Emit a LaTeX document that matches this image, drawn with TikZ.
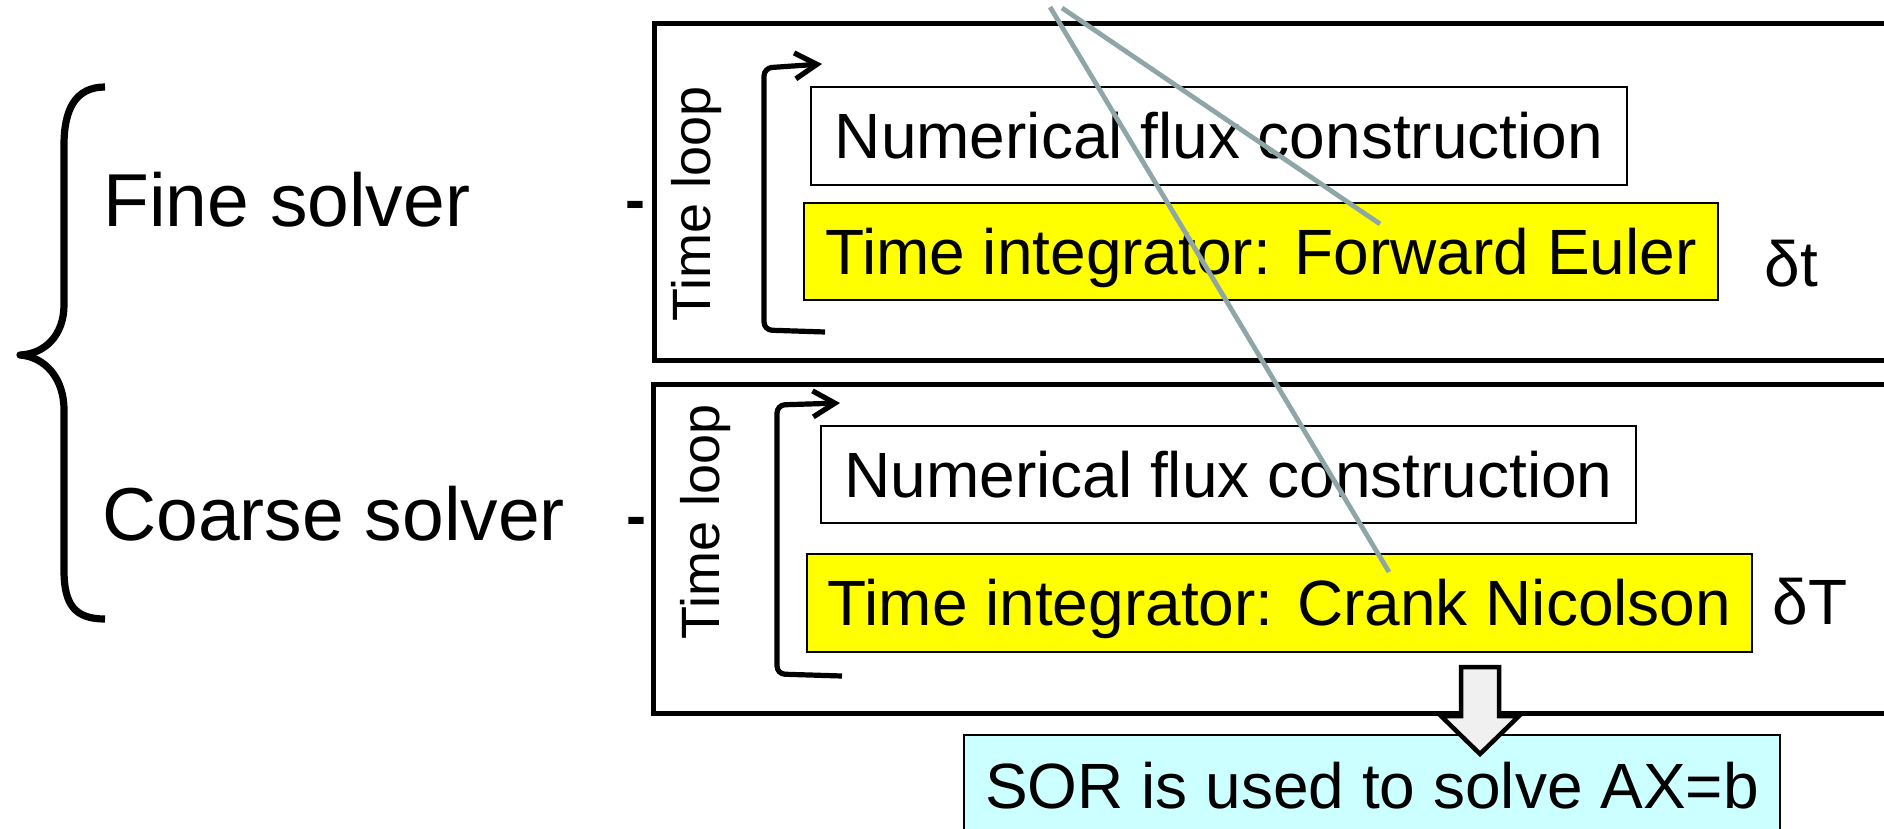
\documentclass[tikz,border=0pt]{standalone}
\usepackage{fontspec}
\setmainfont{Liberation Sans}
\usetikzlibrary{arrows.meta}
\definecolor{hlyellow}{RGB}{255,255,0}
\definecolor{sorcyan}{RGB}{204,255,255}
\definecolor{grayline}{RGB}{143,166,167}
\definecolor{arrowfill}{RGB}{240,240,240}
\begin{document}
\begin{tikzpicture}[x=0.5pt,y=-0.5pt,
  outerbox/.style={draw, line width=2.5pt, anchor=north west, inner sep=0pt, outer sep=0pt},
  stepbox/.style={draw, line width=0.65pt, anchor=north west, inner sep=0pt, outer sep=0pt,
    font=\fontsize{32pt}{38pt}\selectfont, text height=22.9pt, text depth=0pt},
  hlbox/.style={stepbox, fill=hlyellow},
  solver/.style={anchor=base west, inner sep=0pt, font=\fontsize{37.5pt}{45pt}\selectfont},
  dashmark/.style={anchor=base west, inner sep=0pt, font=\fontsize{30pt}{36pt}\selectfont\bfseries},
  looplabel/.style={rotate=90, inner sep=0pt, font=\fontsize{27pt}{32pt}\selectfont},
  looparrow/.style={line width=2.6pt, rounded corners=4pt, -{Straight Barb[length=11pt,width=13pt]}},
  steplabel/.style={anchor=base west, inner sep=0pt, font=\fontsize{32pt}{38pt}\selectfont},
  grayconn/.style={draw=grayline, line width=2.4pt},
  blockarrow/.style={draw, line width=2.25pt, fill=arrowfill, line join=miter}
]
\useasboundingbox (0,0) rectangle (1884,829);
\clip (0,0) rectangle (1884,829);

% brace
\draw[line width=3.6pt, line join=round]
  (105,87) .. controls (75,87) and (64,110) .. (64,145) -- (64,305)
  .. controls (64,335) and (45,354) .. (20,355)
  .. controls (45,357) and (64,378) .. (64,410) -- (64,570)
  .. controls (64,605) and (75,619) .. (105,619);

% solver labels
\node[solver] (fine) at (103,226) {Fine solver};
\node[solver] (coarse) at (102,540) {Coarse solver};
\node[dashmark] (dash1) at (625,220) {-};
\node[dashmark] (dash2) at (626,536) {-};

% outer boxes
\node[outerbox, minimum width=623.5pt, minimum height=168pt] (finebox) at (654,24) {};
\node[outerbox, minimum width=624pt, minimum height=164.5pt] (coarsebox) at (653,384.5) {};

% time loop labels
\node[looplabel] (tl1) at (697,204) {Time loop};
\node[looplabel] (tl2) at (706,522) {Time loop};

% loop arrows
\draw[looparrow] (825,332) -- (764,330) -- (764,68) -- (822,64);
\draw[looparrow] (842,676) -- (777,674) -- (777,405) -- (840,403);

% inner boxes
\node[stepbox, minimum width=408pt, minimum height=49pt] (nf1) at (811,87) {Numerical flux construction};
\node[hlbox, minimum width=457pt, minimum height=48.5pt] (fe) at (804,203) {Time integrator: Forward Euler};
\node[stepbox, minimum width=407.5pt, minimum height=48.5pt] (nf2) at (821,426) {Numerical flux construction};
\node[hlbox, minimum width=472.5pt, minimum height=49pt] (cn) at (807,554) {Time integrator: Crank Nicolson};
\node[stepbox, fill=sorcyan, minimum width=408pt, minimum height=50.5pt] (sor) at (964,735) {SOR is used to solve AX=b};

% step sizes
\node[steplabel] (dt) at (1764,286) {δt};
\node[steplabel] (dT) at (1772,624) {δT};

% block arrow from CN to SOR
\draw[blockarrow] (1461,667) -- (1499,667) -- (1499,716) -- (1519,716) -- (1480,754)
  -- (1441,716) -- (1461,716) -- cycle;

% gray lines
\coordinate (g1s) at (1050,7);
\coordinate (g1e) at (1389,572);
\coordinate (g2s) at (1062,8);
\coordinate (g2e) at (1380,224);
\draw[grayconn] (g1s) -- (g1e);
\draw[grayconn] (g2s) -- (g2e);
\end{tikzpicture}
\end{document}
